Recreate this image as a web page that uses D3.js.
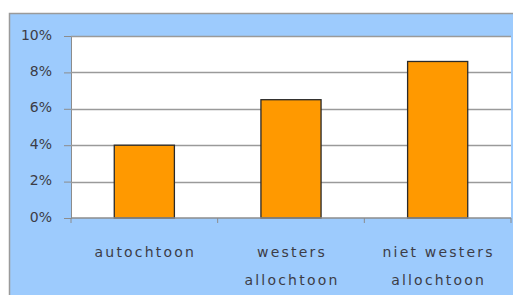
<!DOCTYPE html>
<html>
<head>
<meta charset="utf-8">
<script src="https://cdn.jsdelivr.net/npm/d3@7"></script>
<style>
  body { margin: 0; background: #fff; }
  text { font-family: "DejaVu Sans", sans-serif; fill: #3c3c46; }
</style>
</head>
<body>
<svg id="chart" width="513" height="295"></svg>
<script>
// data
var groups = [["autochtoon"], ["westers", "allochtoon"], ["niet westers", "allochtoon"]];
var shares = [4.0, 6.5, 8.6];
var ticks = [0, 2, 4, 6, 8, 10];

var svg = d3.select("#chart"),
    plot = {left: 71, top: 36, right: 511, bottom: 218};

// blue panel behind everything
svg.append("rect")
    .attr("x", 9.5).attr("y", 13.5)
    .attr("width", 520).attr("height", 300)
    .attr("fill", "#9dcbfd")
    .attr("stroke", "#9a9a9a").attr("stroke-width", 1.5);

svg.append("rect")
    .attr("x", plot.left).attr("y", plot.top)
    .attr("width", plot.right - plot.left).attr("height", plot.bottom - plot.top)
    .attr("fill", "#fff");

var x = d3.scaleBand()
    .domain(d3.range(groups.length))
    .range([plot.left, plot.right])
    .paddingInner(0.59).paddingOuter(0.295);

var xcat = d3.scaleBand()
    .domain(d3.range(groups.length))
    .range([plot.left, plot.right]);

var y = d3.scaleLinear().domain([0, 10]).range([plot.bottom, plot.top]);

// gridlines + y ticks
var yAxis = svg.append("g")
    .attr("transform", "translate(" + plot.left + ",0)")
    .call(d3.axisLeft(y).tickValues(ticks).tickSize(7).tickPadding(12)
        .tickFormat(function(d) { return d + "%"; }));
yAxis.select(".domain").attr("stroke", "#8c8c8c");
yAxis.selectAll(".tick line").attr("stroke", "#8c8c8c");
yAxis.selectAll("text").style("font-size", "14px").attr("fill", "#3c3c46")
    .attr("dy", "0.22em");

svg.append("g").selectAll("line")
    .data(ticks.filter(function(d) { return d > 0; }))
    .join("line")
    .attr("x1", plot.left).attr("x2", plot.right)
    .attr("y1", function(d) { return Math.round(y(d)) + 0.5; })
    .attr("y2", function(d) { return Math.round(y(d)) + 0.5; })
    .attr("stroke", "#9a9a9a").attr("stroke-width", 1.5);

// bars
svg.append("g").selectAll("rect")
    .data(shares)
    .join("rect")
    .attr("x", function(d, i) { return x(i); })
    .attr("y", function(d) { return y(d); })
    .attr("width", x.bandwidth())
    .attr("height", function(d) { return plot.bottom - y(d); })
    .attr("fill", "#ff9900")
    .attr("stroke", "#2a2a2a").attr("stroke-width", 1.3);

// x axis
var xAxis = svg.append("g")
    .attr("transform", "translate(0," + plot.bottom + ")");
xAxis.append("line")
    .attr("x1", plot.left).attr("x2", plot.right)
    .attr("stroke", "#8c8c8c").attr("stroke-width", 1.5);
xAxis.selectAll("line.cat")
    .data(d3.range(groups.length + 1))
    .join("line").attr("class", "cat")
    .attr("x1", function(i) { return plot.left + i * xcat.bandwidth(); })
    .attr("x2", function(i) { return plot.left + i * xcat.bandwidth(); })
    .attr("y1", 0).attr("y2", 5)
    .attr("stroke", "#8c8c8c");

var lbl = xAxis.selectAll("text.lbl")
    .data(groups)
    .join("text").attr("class", "lbl")
    .attr("text-anchor", "middle")
    .style("font-size", "14px")
    .style("letter-spacing", "2.2px");
lbl.selectAll("tspan")
    .data(function(d, i) { return d.map(function(s) { return {s: s, i: i}; }); })
    .join("tspan")
    .attr("x", function(d) { return xcat(d.i) + xcat.bandwidth() / 2 + 1; })
    .attr("y", function(d, j) { return 39 + j * 28; })
    .text(function(d) { return d.s; });
</script>
</body>
</html>
